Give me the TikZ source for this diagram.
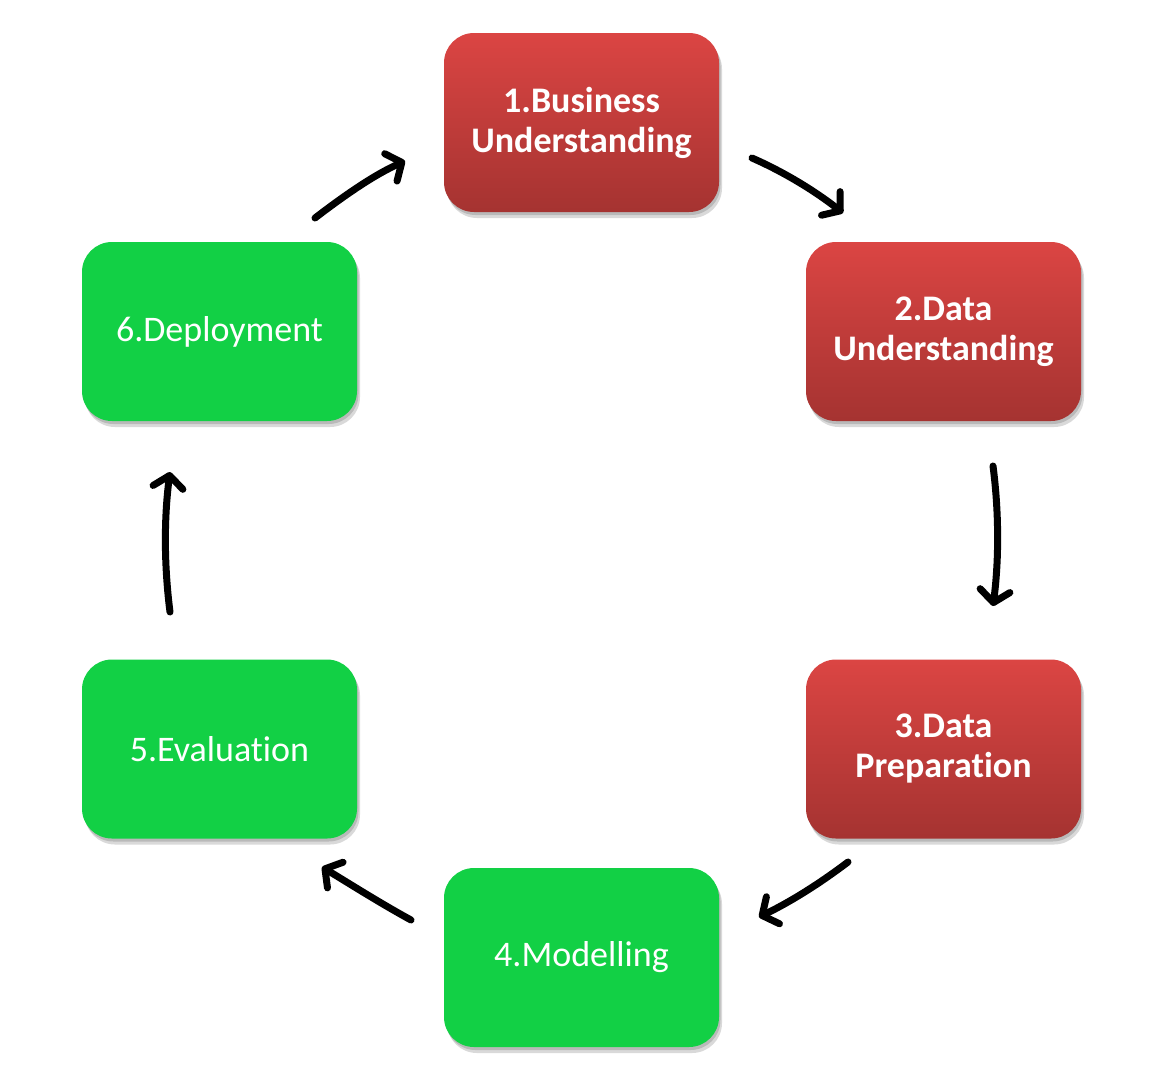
\documentclass[tikz,border=0pt]{standalone}
\usepackage{fontspec}
\setmainfont{Carlito}[Ligatures=NoCommon]
\usetikzlibrary{arrows.meta,shadows}
\definecolor{redtop}{HTML}{DB4543}
\definecolor{redbot}{HTML}{A53331}
\definecolor{boxgreen}{HTML}{12D045}
\tikzset{
  box/.style={rounded corners=30pt, minimum width=275pt, minimum height=179pt, inner sep=0pt,
    text=white, align=center, font=\fontsize{36}{40}\selectfont,
    double copy shadow={shadow xshift=1.5pt, shadow yshift=-3pt, opacity=0.15, fill=black, draw=none}},
  redbox/.style={box, top color=redtop, bottom color=redbot, font=\bfseries\fontsize{36}{40}\selectfont},
  greenbox/.style={box, fill=boxgreen},
  flow/.style={line width=7pt, line cap=round, -{Straight Barb[length=12pt,width=30pt,line cap=round,line join=round]}}
}
\begin{document}
\begin{tikzpicture}[x=1pt,y=-1pt]
\useasboundingbox (0,0) rectangle (1172,1088);
\node[redbox] (b1) at (581.5,122.5) {1.Business\\Understanding};
\node[redbox] (b2) at (943.5,331.5) {2.Data\\Understanding};
\node[redbox] (b3) at (943.5,749) {3.Data\\Preparation};
\node[greenbox] (b4) at (581.5,957.5) {4.Modelling};
\node[greenbox] (b5) at (219.5,749) {5.Evaluation};
\node[greenbox] (b6) at (219.5,331.5) {6.Deployment};
\coordinate (s12) at (752,158); \coordinate (e12) at (843,213);
\coordinate (s23) at (993,466); \coordinate (e23) at (993,606);
\coordinate (s34) at (848,862); \coordinate (e34) at (759,917);
\coordinate (s45) at (411,920); \coordinate (e45) at (322,867);
\coordinate (s56) at (170,612); \coordinate (e56) at (170,472);
\coordinate (s61) at (315,218); \coordinate (e61) at (405,161);
\draw[flow] (s12) .. controls (784,172) and (815,191) .. (e12);
\draw[flow] (s23) .. controls (999,512) and (999,560) .. (e23);
\draw[flow] (s34) .. controls (819,884) and (790,902) .. (e34);
\draw[flow] (s45) .. controls (380,903) and (350,884) .. (e45);
\draw[flow] (s56) .. controls (164,565) and (164,518) .. (e56);
\draw[flow] (s61) .. controls (345,195) and (374,175) .. (e61);
\end{tikzpicture}
\end{document}
